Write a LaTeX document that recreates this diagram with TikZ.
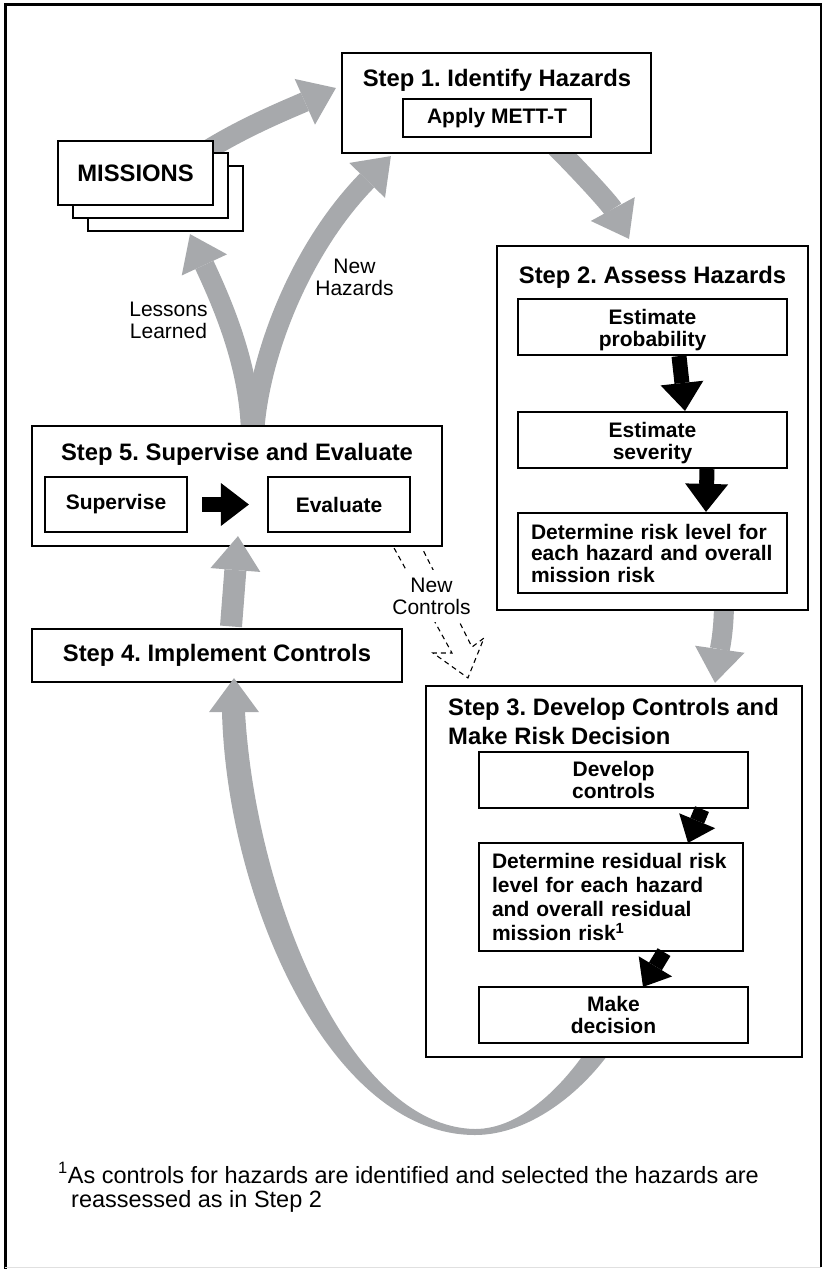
\documentclass[tikz,border=0pt]{standalone}
\usepackage{fontspec}
\setmainfont{Liberation Sans}
\usetikzlibrary{arrows.meta,calc}
\frenchspacing
\definecolor{bandgray}{RGB}{167,169,172}
\pgfdeclarelayer{background}
\pgfsetlayers{background,main}
\newcommand{\hdfont}{\fontsize{23.8pt}{28pt}\selectfont\bfseries}
\newcommand{\tkfont}{\fontsize{21pt}{21.5pt}\selectfont\bfseries}
\newcommand{\lbfont}{\fontsize{21pt}{21.5pt}\selectfont}
\newcommand{\ftfont}{\fontsize{23.5pt}{24pt}\selectfont}
\tikzset{
  stepbox/.style={draw,line width=2.2pt,fill=white,inner sep=0pt},
  taskbox/.style={stepbox,minimum width=269pt,minimum height=56pt,font=\tkfont,align=center},
  grayarrow/.style={draw=bandgray,line width=20pt,-{Triangle[width=50pt,length=34pt,line width=0pt]}},
  blackarrow/.style={draw=black,line width=15pt,-{Triangle[width=43pt,length=28pt,line width=0pt]}},
  smallarrow/.style={draw=black,line width=15pt,-{Triangle[width=39pt,length=24pt,line width=0pt]}},
  dashline/.style={line width=1.1pt,dash pattern=on 5pt off 4pt},
}
\begin{document}
\begin{tikzpicture}[x=1pt,y=-1pt]
\useasboundingbox (0,0) rectangle (823,1269);
% frame
\draw[line width=3pt] (5,1269) -- (5,4.5) -- (822,4.5);
\draw[line width=2pt] (821,4.5) -- (821,1267);
\draw[line width=1.2pt,black!12] (5,1267.5) -- (821,1267.5);

% Step 1 and missions
\path (496.5,103) node[stepbox,minimum width=309pt,minimum height=100pt] (step1) {};
\path (497,86) node[anchor=base,font=\hdfont] (step1title) {Step 1. Identify Hazards};
\path (497,118) node[stepbox,minimum width=188pt,minimum height=38pt,font=\tkfont] (mett) {Apply METT-T};
\path (165.5,198.5) node[stepbox,minimum width=155pt,minimum height=65pt] (mis3) {};
\path (150.5,185.5) node[stepbox,minimum width=155pt,minimum height=65pt] (mis2) {};
\path (135.5,173) node[stepbox,minimum width=155pt,minimum height=64pt,font=\hdfont] (mis1) {MISSIONS};

% Step 2
\path (652.5,428) node[stepbox,minimum width=311pt,minimum height=364pt] (step2) {};
\path (652.5,283) node[anchor=base,font=\hdfont] (step2title) {Step 2. Assess Hazards};
\path (652.5,327) node[taskbox] (prob) {\rule{0pt}{21.5pt}Estimate\\probability};
\path (652.5,440) node[taskbox] (sev) {\rule{0pt}{21.5pt}Estimate\\severity};
\path (652.5,553) node[taskbox,minimum height=80pt,text width=243pt,align=left] (risk) {Determine risk level for\\each hazard and overall\\mission risk};

% Step 3
\path (614,871.5) node[stepbox,minimum width=376pt,minimum height=371pt] (step3) {};
\path (448,697.6) node[anchor=north west,inner sep=0pt,align=left,font={\fontsize{23.8pt}{29pt}\selectfont\bfseries}] (step3title) {Step 3. Develop Controls and\\Make Risk Decision};
\path (613.5,780) node[taskbox] (devc) {Develop\\controls};
\path (611,897) node[taskbox,minimum width=264pt,minimum height=108pt,text width=238pt,align=left,font={\fontsize{21pt}{24.3pt}\selectfont\bfseries}] (resid) {Determine residual risk\\level for each hazard\\and overall residual\\mission risk\textsuperscript{1}};
\path (613.5,1015) node[taskbox] (mkdec) {Make\\decision};

% Step 4 and Step 5
\path (217,655.5) node[stepbox,minimum width=370pt,minimum height=53pt,font=\hdfont] (step4) {Step 4. Implement Controls};
\path (237,486) node[stepbox,minimum width=410pt,minimum height=120pt] (step5) {};
\path (237,460) node[anchor=base,font=\hdfont] (step5title) {Step 5. Supervise and Evaluate};
\path (116,504.5) node[stepbox,minimum width=142pt,minimum height=55pt,font=\tkfont] (superv) {Supervise};
\path (339,504.5) node[stepbox,minimum width=142pt,minimum height=55pt,font=\tkfont] (evalu) {Evaluate};

% gray loop arrows
\begin{pgfonlayer}{background}
\draw[grayarrow] ($(mis1.north east)+(-8,11)$) .. controls +(40,-25) and +(-45,20) .. ($(step1.west)+(-5,-15)$);
\draw[grayarrow] ($(step1.south)+(56.5,-10)$) .. controls +(28,28) and +(-19,-35) .. ($(step2.north)+(-23.5,-6)$);
\draw[grayarrow] ($(step2.south)+(71.5,-10)$) .. controls +(0,30) and +(5,-35) .. ($(step3.north)+(101,-2)$);
\draw[grayarrow] ($(step5.north)+(14,10)$) .. controls +(-1,-66) and +(35,75) .. ($(mis3.south)+(24.5,2)$);
\draw[grayarrow] ($(step5.north)+(17,10)$) .. controls +(4,-76) and +(-92,94) .. ($(step1.south west)+(50,2)$);
\fill[bandgray] (222,712) .. controls (227,900) and (330,1135) .. (475,1135) .. controls (532,1135) and (588,1088) .. (618,1040)
  -- (596,1036) .. controls (566,1084) and (522,1129) .. (475,1129) .. controls (350,1127) and (256,900) .. (245,712) -- cycle;
\end{pgfonlayer}
\draw[grayarrow,line width=22pt] ($(step4.south)+(17,43)$) -- ($(step4.south)+(17,-5)$);
\draw[grayarrow,line width=22pt] ($(step4.north)+(14,-1.5)$) -- ($(step5.south)+(1,-11)$);

% black arrows
\draw[blackarrow] ($(prob.south)+(26.5,0)$) -- ($(sev.north)+(32.5,0)$);
\draw[blackarrow] ($(sev.south)+(54.5,0)$) -- ($(risk.north)+(53.5,0)$);
\draw[smallarrow] ($(devc.south)+(88.5,0)$) -- ($(resid.north)+(77,1)$);
\draw[smallarrow] ($(resid.south)+(53,0)$) -- ($(mkdec.north)+(29.5,1)$);
\draw[blackarrow] ($(superv.east)+(14,0)$) -- ($(evalu.west)+(-18,0)$);

% new controls (dashed)
\draw[dashline] ($(step5.south east)+(-49,1)$) -- (452,653) -- (433,653) -- ($(step3.north west)+(43,-7)$) -- (484,638) -- (472,647) -- ($(step5.south east)+(-21,1)$);
\path (431.5,570) node[anchor=north,inner xsep=2pt,inner ysep=8pt,fill=white,align=center,font=\lbfont] (newctrl) {New\\Controls};

% labels
\path (168.5,302) node[anchor=north,inner sep=0pt,align=center,font=\lbfont] (lessons) {Lessons\\Learned};
\path (354.5,259) node[anchor=north,inner sep=0pt,align=center,font=\lbfont] (newhaz) {New\\Hazards};

% footnote
\path (58,1183) node[anchor=base west,inner sep=0pt,font=\ftfont] (foot1) {\textsuperscript{1}As controls for hazards are identified and selected the hazards are};
\path (71,1207) node[anchor=base west,inner sep=0pt,font=\ftfont] (foot2) {reassessed as in Step 2};
\end{tikzpicture}
\end{document}
